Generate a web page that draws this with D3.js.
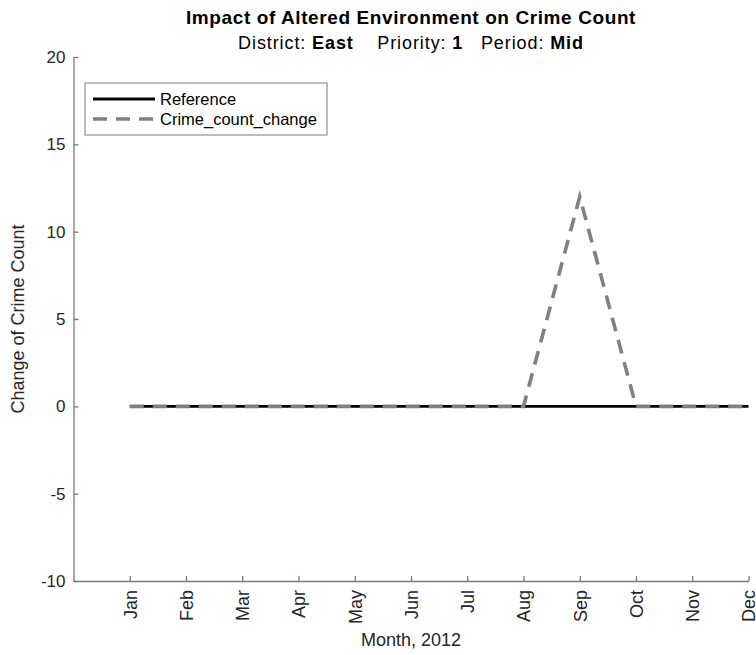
<!DOCTYPE html>
<html>
  <head>
    <meta charset="utf-8">
    <title>Crime Count</title>
    <style media="screen">
    body{margin: 0; background: #fff}
    text {font-family: "Liberation Sans", Arial, sans-serif}
    </style>
  </head>
  <body>
    <script src="https://d3js.org/d3.v7.min.js"></script>
    <script type="text/javascript">
      var months = ['Jan','Feb','Mar','Apr','May','Jun','Jul','Aug','Sep','Oct','Nov','Dec']
      var reference = [0,0,0,0,0,0,0,0,0,0,0,0]
      var crimeCountChange = [0,0,0,0,0,0,0,0,12,0,0,0]
      var yTicks = [-10,-5,0,5,10,15,20]

      var w = 756, h = 655
      // note: "top" is taken by window.top, so use other names
      var plotLeft = 73.5, plotRight = 748.5, plotTop = 57, plotBottom = 581

      var svg = d3.select('body').append('svg')
        .attr('width', w)
        .attr('height', h)

      var x = d3.scaleLinear().domain([0, 12]).range([plotLeft, plotRight])
      var y = d3.scaleLinear().domain([-10, 20]).range([plotBottom, plotTop])

      // lines first, axes drawn over
      var line = d3.line()
        .x(function(d, i){ return x(i + 1) })
        .y(function(d){ return y(d) })

      svg.append('path')
        .datum(reference)
        .attr('d', line)
        .attr('fill', 'none')
        .attr('stroke', '#000')
        .attr('stroke-width', 2.8)

      svg.append('path')
        .datum(crimeCountChange)
        .attr('d', line)
        .attr('fill', 'none')
        .attr('stroke', '#808080')
        .attr('stroke-width', 3.6)
        .attr('stroke-dasharray', '14,9')

      // axes, ticks pointing inward like matlab
      var yAxis = svg.append('g')
        .attr('transform', 'translate(' + plotLeft + ',0)')
        .call(d3.axisLeft(y).tickValues(yTicks).tickSize(-5).tickSizeOuter(0).tickPadding(8)
          .tickFormat(function(d){ return String(d) }))   // plain hyphen, not unicode minus
      var xAxis = svg.append('g')
        .attr('transform', 'translate(0,' + plotBottom + ')')
        .call(d3.axisBottom(x).tickValues(d3.range(1, 13)).tickSize(-5).tickSizeOuter(0)
          .tickFormat(function(d){ return months[d - 1] }))

      ;[yAxis, xAxis].forEach(function(a){
        a.select('.domain').attr('stroke', '#7a7a7a').attr('stroke-width', 1.3)
        a.selectAll('.tick line').attr('stroke', '#7a7a7a').attr('stroke-width', 1.3)
        a.selectAll('text').attr('fill', '#262626').style('font-size', '17px')
          .style('font-family', '"Liberation Sans", Arial, sans-serif')
      })

      xAxis.selectAll('.tick text')
        .style('font-size', '18px')
        .attr('transform', 'rotate(-90)')
        .attr('x', -9)
        .attr('y', 0)
        .attr('dy', '0.35em')
        .attr('text-anchor', 'end')

      // titles
      svg.append('text')
        .attr('x', (plotLeft + plotRight) / 2)
        .attr('y', 24)
        .attr('text-anchor', 'middle')
        .style('font-size', '19px')
        .style('font-weight', 'bold')
        .style('letter-spacing', '0.6px')
        .attr('fill', '#000')
        .text('Impact of Altered Environment on Crime Count')

      var sub = svg.append('text')
        .attr('x', (plotLeft + plotRight) / 2)
        .attr('y', 49)
        .attr('text-anchor', 'middle')
        .style('font-size', '18px')
        .style('letter-spacing', '0.9px')
        .attr('fill', '#000')
      sub.append('tspan').text('District: ')
      sub.append('tspan').style('font-weight', 'bold').text('East')
      sub.append('tspan').text('\u00a0\u00a0\u00a0\u00a0Priority: ')
      sub.append('tspan').style('font-weight', 'bold').text('1')
      sub.append('tspan').text('\u00a0\u00a0\u00a0Period: ')
      sub.append('tspan').style('font-weight', 'bold').text('Mid')

      svg.append('text')
        .attr('transform', 'translate(24,' + (plotTop + plotBottom) / 2 + ') rotate(-90)')
        .attr('text-anchor', 'middle')
        .style('font-size', '18px')
        .attr('fill', '#262626')
        .text('Change of Crime Count')

      svg.append('text')
        .attr('x', (plotLeft + plotRight) / 2)
        .attr('y', 646)
        .attr('text-anchor', 'middle')
        .style('font-size', '18px')
        .attr('fill', '#262626')
        .text('Month, 2012')

      // legend
      var legend = svg.append('g').attr('transform', 'translate(85,83)')
      legend.append('rect')
        .attr('width', 242)
        .attr('height', 52)
        .attr('fill', '#fff')
        .attr('stroke', '#7a7a7a')
        .attr('stroke-width', 1)

      var items = [
        {name: 'Reference', color: '#000', width: 2.8, dash: null},
        {name: 'Crime_count_change', color: '#808080', width: 3.6, dash: '14,9'}
      ]
      items.forEach(function(it, i){
        var yy = 16 + i * 20
        legend.append('line')
          .attr('x1', 8).attr('x2', 70)
          .attr('y1', yy).attr('y2', yy)
          .attr('stroke', it.color)
          .attr('stroke-width', it.width)
          .attr('stroke-dasharray', it.dash)
        legend.append('text')
          .attr('x', 75)
          .attr('y', yy)
          .attr('dy', '0.35em')
          .style('font-size', '16.5px')
          .attr('fill', '#000')
          .text(it.name)
      })
    </script>
  </body>
</html>
